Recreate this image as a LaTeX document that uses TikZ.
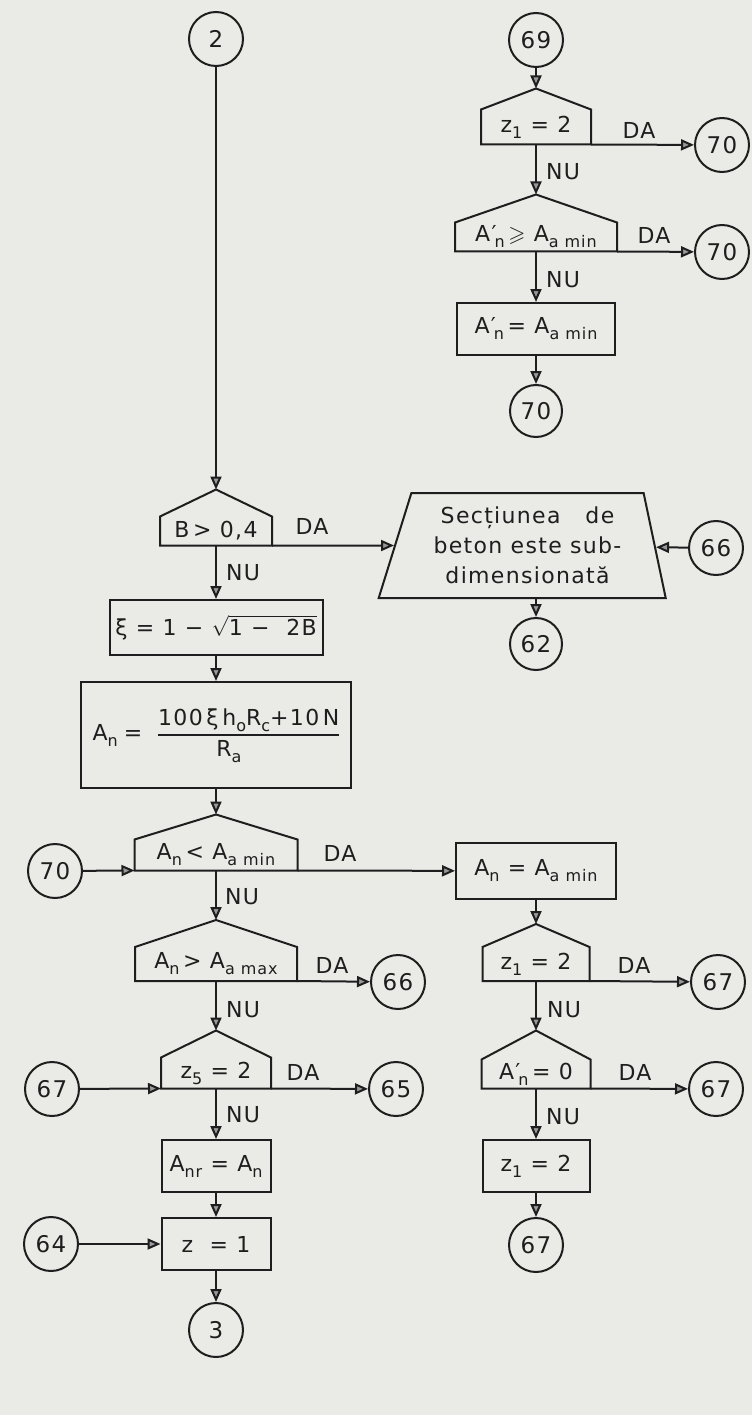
\documentclass[tikz,border=0pt]{standalone}
\usepackage{fontspec}
\usepackage{amssymb}
\setmainfont{DejaVu Sans}[LetterSpace=6.0]
\usetikzlibrary{arrows.meta,positioning,shapes.geometric,calc}

\definecolor{paper}{RGB}{234,234,231}
\definecolor{ink}{RGB}{30,30,30}
\newcommand{\lo}[1]{\raisebox{-0.5ex}{\fontsize{16}{16}\selectfont #1}}
\newcommand{\Apr}{A′\kern-2pt\lo{n}\,}
\setlength{\arrayrulewidth}{1.8pt}

\begin{document}
\begin{tikzpicture}[x=1pt, y=-1pt,
  line width=2pt, color=ink,
  font=\fontsize{22}{30}\selectfont,
  conn/.style={circle, draw, minimum size=54pt, inner sep=0pt, font=\fontsize{23}{23}\selectfont},
  proc/.style={rectangle, draw, inner sep=0pt},
  dec/.style={rectangle, inner sep=0pt},
  lab/.style={inner sep=0pt},
  arr/.style={-{Triangle[length=13pt,width=11pt,fill=black!40]}},
]
  \fill[paper] (0,0) rectangle (752,1415);
  \useasboundingbox (0,0) rectangle (752,1415);

  % left column
  \node[conn] (c2) at (216,39) {2};
  \node[dec, minimum width=110pt, minimum height=27pt] (d1) at (216,531) {B\,> 0,4};
  \node[proc, minimum width=213pt, minimum height=55pt] (b1) at (216,627.5)
    {ξ = 1 − $\sqrt{\mbox{1 −\ \ 2B}}$};
  \node[proc, minimum width=270pt, minimum height=106pt] (b2) at (216,735)
    {A\lo{n}\hspace{6pt}=\hspace{16pt}\begin{tabular}{@{}c@{}}100\,ξ\,h\lo{o}R\lo{c}+10\,N\\\hline R\lo{a}\hspace*{40pt}\end{tabular}\hspace{8pt}};
  \node[dec, minimum width=161pt, minimum height=29pt] (d2) at (216,855) {A\lo{n}\,< A\lo{a min}};
  \node[conn] (c70l) at (55,871) {70};
  \node[dec, minimum width=160pt, minimum height=32pt] (d3) at (216,964) {A\lo{n}\,> A\lo{a max}};
  \node[conn] (c66l) at (398,982) {66};
  \node[dec, minimum width=108pt, minimum height=29pt] (d4) at (216,1073) {z\lo{5} = 2};
  \node[conn] (c67l) at (52,1089) {67};
  \node[conn] (c65) at (396,1089) {65};
  \node[proc, minimum width=109pt, minimum height=52pt] (b3) at (216,1166) {A\lo{nr} = A\lo{n}};
  \node[proc, minimum width=109pt, minimum height=52pt] (b4) at (216,1244) {z\ \ = 1};
  \node[conn] (c64) at (51,1244) {64};
  \node[conn] (c3) at (216,1330) {3};

  % right column
  \node[conn] (c69) at (536,40) {69};
  \node[dec, minimum width=108pt, minimum height=33pt] (d5) at (536,127) {z\lo{1} = 2};
  \node[conn] (c70a) at (722,145) {70};
  \node[dec, minimum width=160pt, minimum height=27pt] (d6) at (536,237) {\Apr $\geqslant$ A\lo{a min}};
  \node[conn] (c70b) at (722,252) {70};
  \node[proc, minimum width=158pt, minimum height=52pt] (b5) at (536,329) {\Apr = A\lo{a min}};
  \node[conn, minimum size=52pt] (c70c) at (536,411) {70};
  \node[trapezium, draw, trapezium left angle=67, trapezium right angle=74,
    minimum width=287pt, minimum height=105pt, trapezium stretches body,
    align=center, inner sep=0pt] (trap) at (527.5,545.5)
    {Secțiunea\ \ \ de\\beton este sub-\\dimensionată};
  \node[conn] (c66r) at (716,548) {66};
  \node[conn, minimum size=52pt] (c62) at (536,644) {62};
  \node[proc, minimum width=160pt, minimum height=56pt] (b6) at (536,871) {A\lo{n} = A\lo{a min}};
  \node[dec, minimum width=105pt, minimum height=32pt] (d7) at (536,964) {z\lo{1} = 2};
  \node[conn] (c67a) at (718,982) {67};
  \node[dec, minimum width=107pt, minimum height=27pt] (d8) at (536,1074) {\Apr= 0};
  \node[conn] (c67b) at (716,1089) {67};
  \node[proc, minimum width=107pt, minimum height=52pt] (b7) at (536,1166) {z\lo{1} = 2};
  \node[conn] (c67c) at (536,1245) {67};

  % decision outlines (roof above the body)
  \foreach \d/\r in {d1/27, d2/25, d3/27, d4/27, d5/21, d6/28, d7/23, d8/29} {
    \draw[line join=miter] (\d.south west) -- (\d.north west) -- ([yshift=\r]\d.north)
      -- (\d.north east) -- (\d.south east) -- cycle;
    \coordinate (\d-top) at ([yshift=\r]\d.north);
  }

  % DA / NU
  \node[lab] (da1) at (312,526) {DA};
  \node[lab] (nu1) at (243,573) {NU};
  \node[lab] (da2) at (340,853) {DA};
  \node[lab] (nu2) at (242,897) {NU};
  \node[lab] (da3) at (332,965) {DA};
  \node[lab] (nu3) at (243,1010) {NU};
  \node[lab] (da4) at (303,1072) {DA};
  \node[lab] (nu4) at (243,1115) {NU};
  \node[lab] (da5) at (639,130) {DA};
  \node[lab] (nu5) at (563,172) {NU};
  \node[lab] (da6) at (654,235) {DA};
  \node[lab] (nu6) at (563,280) {NU};
  \node[lab] (da7) at (634,965) {DA};
  \node[lab] (nu7) at (564,1010) {NU};
  \node[lab] (da8) at (635,1072) {DA};
  \node[lab] (nu8) at (563,1117) {NU};

  % connectors, left
  \draw[arr] (c2) -- (d1-top);
  \draw[arr] (d1.south east) -- (trap);
  \draw[arr] (d1.south) -- (b1);
  \draw[arr] (b1) -- (b2);
  \draw[arr] (b2) -- (d2-top);
  \draw[arr] (c70l) -- (d2.south west);
  \draw[arr] (d2.south east) -- (b6);
  \draw[arr] (d2.south) -- (d3-top);
  \draw[arr] (d3.south east) -- (c66l);
  \draw[arr] (d3.south) -- (d4-top);
  \draw[arr] (c67l) -- (d4.south west);
  \draw[arr] (d4.south east) -- (c65);
  \draw[arr] (d4.south) -- (b3);
  \draw[arr] (b3) -- (b4);
  \draw[arr] (c64) -- (b4);
  \draw[arr] (b4) -- (c3);

  % connectors, right
  \draw[arr] (c69) -- (d5-top);
  \draw[arr] (d5.south east) -- (c70a);
  \draw[arr] (d5.south) -- (d6-top);
  \draw[arr] (d6.south east) -- (c70b);
  \draw[arr] (d6.south) -- (b5);
  \draw[arr] (b5) -- (c70c);
  \draw[arr] (c66r) -- (trap);
  \draw[arr] (c62 |- trap.south) -- (c62);
  \draw[arr] (b6) -- (d7-top);
  \draw[arr] (d7.south east) -- (c67a);
  \draw[arr] (d7.south) -- (d8-top);
  \draw[arr] (d8.south east) -- (c67b);
  \draw[arr] (d8.south) -- (b7);
  \draw[arr] (b7) -- (c67c);
\end{tikzpicture}
\end{document}
